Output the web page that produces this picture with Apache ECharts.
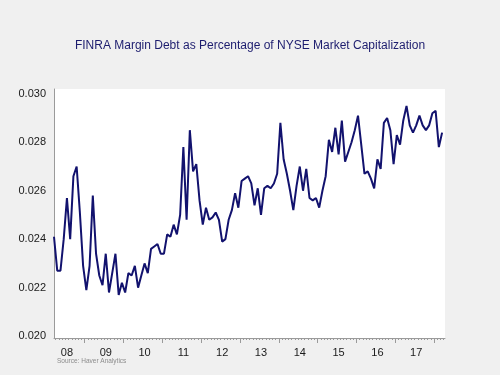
<!DOCTYPE html>
<html>
<head>
<meta charset="utf-8">
<title>FINRA Margin Debt</title>
<script src="https://cdn.jsdelivr.net/npm/echarts@6/dist/echarts.min.js"></script>
<style>
  html, body { margin: 0; padding: 0; background: #f0f0f0; }
  #chart { width: 500px; height: 375px; }
</style>
</head>
<body>
<div id="chart"></div>
<script>
// monthly observations, Mar 2008 .. Mar 2018
var months = [
  '2008-03', '2008-04', '2008-05', '2008-06', '2008-07', '2008-08', '2008-09', '2008-10', '2008-11', '2008-12',
  '2009-01', '2009-02', '2009-03', '2009-04', '2009-05', '2009-06', '2009-07', '2009-08', '2009-09', '2009-10', '2009-11', '2009-12',
  '2010-01', '2010-02', '2010-03', '2010-04', '2010-05', '2010-06', '2010-07', '2010-08', '2010-09', '2010-10', '2010-11', '2010-12',
  '2011-01', '2011-02', '2011-03', '2011-04', '2011-05', '2011-06', '2011-07', '2011-08', '2011-09', '2011-10', '2011-11', '2011-12',
  '2012-01', '2012-02', '2012-03', '2012-04', '2012-05', '2012-06', '2012-07', '2012-08', '2012-09', '2012-10', '2012-11', '2012-12',
  '2013-01', '2013-02', '2013-03', '2013-04', '2013-05', '2013-06', '2013-07', '2013-08', '2013-09', '2013-10', '2013-11', '2013-12',
  '2014-01', '2014-02', '2014-03', '2014-04', '2014-05', '2014-06', '2014-07', '2014-08', '2014-09', '2014-10', '2014-11', '2014-12',
  '2015-01', '2015-02', '2015-03', '2015-04', '2015-05', '2015-06', '2015-07', '2015-08', '2015-09', '2015-10', '2015-11', '2015-12',
  '2016-01', '2016-02', '2016-03', '2016-04', '2016-05', '2016-06', '2016-07', '2016-08', '2016-09', '2016-10', '2016-11', '2016-12',
  '2017-01', '2017-02', '2017-03', '2017-04', '2017-05', '2017-06', '2017-07', '2017-08', '2017-09', '2017-10', '2017-11', '2017-12',
  '2018-01', '2018-02', '2018-03'
]
var marginRatio = [
  0.0241, 0.0227, 0.0227, 0.0240, 0.0257, 0.0240, 0.0266, 0.0270, 0.0251, 0.0229,
  0.0219, 0.0229, 0.0258, 0.0234, 0.0225, 0.0221, 0.0234, 0.0218, 0.0226, 0.0234, 0.0217, 0.0222,
  0.0218, 0.0226, 0.0225, 0.0229, 0.0220, 0.0225, 0.0230, 0.0226, 0.0236, 0.0237, 0.0238, 0.0234,
  0.0234, 0.0242, 0.0241, 0.0246, 0.0242, 0.0250, 0.0278, 0.0248, 0.0285, 0.0268, 0.0271, 0.0256,
  0.0246, 0.0253, 0.0248, 0.0249, 0.0251, 0.0248, 0.0239, 0.0240, 0.0248, 0.0252, 0.0259, 0.0253,
  0.0264, 0.0265, 0.0266, 0.0263, 0.0254, 0.0261, 0.0250, 0.0261, 0.0262, 0.0261, 0.0263, 0.0267,
  0.0288, 0.0273, 0.0267, 0.0260, 0.0252, 0.0262, 0.0270, 0.0260, 0.0269, 0.0257, 0.0256, 0.0257,
  0.0253, 0.0260, 0.0266, 0.0281, 0.0276, 0.0286, 0.0275, 0.0289, 0.0272, 0.0276, 0.0280, 0.0285,
  0.0291, 0.0279, 0.0267, 0.0268, 0.0265, 0.0261, 0.0273, 0.0269, 0.0288, 0.0290, 0.0285, 0.0271,
  0.0283, 0.0279, 0.0289, 0.0295, 0.0287, 0.0284, 0.0287, 0.0291, 0.0287, 0.0285, 0.0287, 0.0292,
  0.0293, 0.0278, 0.0284
]
var yTicks = [0.020, 0.022, 0.024, 0.026, 0.028, 0.030]
var yearLabels = ['08', '09', '10', '11', '12', '13', '14', '15', '16', '17']

// month index counted from Jan 2008, points sit mid-month
function monthIndex (s) {
  var p = s.split('-')
  return (Number(p[0]) - 2008) * 12 + Number(p[1]) - 1
}
var seriesData = months.map(function (m, i) {
  return [monthIndex(m) + 0.5, marginRatio[i]]
})
var yearStarts = yearLabels.slice(1).map(function (y, i) { return (i + 1) * 12 })
yearStarts.push(120)
var yearMids = yearLabels.map(function (y, i) { return i * 12 + 6.5 })
var monthTicks = []
for (var k = 3; k <= 123; k++) monthTicks.push(k)

var xMin = 2.5
var xMax = 123.4
var axisGray = '#9a9a9a'
var font = 'Liberation Sans, Arial, Helvetica, sans-serif'

var chart = echarts.init(document.getElementById('chart'))
chart.setOption({
  animation: false,
  backgroundColor: '#f0f0f0',
  textStyle: { fontFamily: font },
  title: {
    text: 'FINRA Margin Debt as Percentage of NYSE Market Capitalization',
    left: 'center',
    top: 35,
    textStyle: { fontSize: 12, fontWeight: 'normal', color: '#1c1c6e', fontFamily: font }
  },
  grid: {
    left: 54,
    right: 55,
    top: 89,
    bottom: 37,
    show: true,
    backgroundColor: '#ffffff',
    borderWidth: 0
  },
  graphic: [{
    type: 'text',
    left: 57,
    top: 358,
    style: { text: 'Source: Haver Analytics', fontSize: 6.5, fill: '#8c8c8c', fontFamily: font }
  }],
  xAxis: [
    {
      type: 'value',
      min: xMin,
      max: xMax,
      position: 'bottom',
      axisLine: { show: true, lineStyle: { color: axisGray, width: 1 } },
      axisTick: { show: true, customValues: yearStarts, length: 5, lineStyle: { color: axisGray } },
      axisLabel: {
        customValues: yearMids,
        margin: 9,
        fontSize: 11,
        color: '#1a1a1a',
        formatter: function (v) { return yearLabels[Math.floor(v / 12)] }
      },
      splitLine: { show: false }
    },
    {
      type: 'value',
      min: xMin,
      max: xMax,
      position: 'bottom',
      axisLine: { show: false },
      axisTick: { show: true, customValues: monthTicks, length: 2, lineStyle: { color: axisGray } },
      axisLabel: { show: false },
      splitLine: { show: false }
    }
  ],
  yAxis: {
    type: 'value',
    min: 0.01992,
    max: 0.0302,
    axisLine: { show: true, lineStyle: { color: axisGray, width: 1 } },
    axisTick: { show: false },
    axisLabel: {
      customValues: yTicks,
      margin: 8,
      fontSize: 11,
      color: '#1a1a1a',
      formatter: function (v) { return v.toFixed(3) }
    },
    splitLine: { show: false }
  },
  series: [{
    type: 'line',
    xAxisIndex: 0,
    data: seriesData,
    showSymbol: false,
    clip: true,
    lineStyle: { color: '#12126e', width: 2 }
  }]
})
</script>
</body>
</html>
